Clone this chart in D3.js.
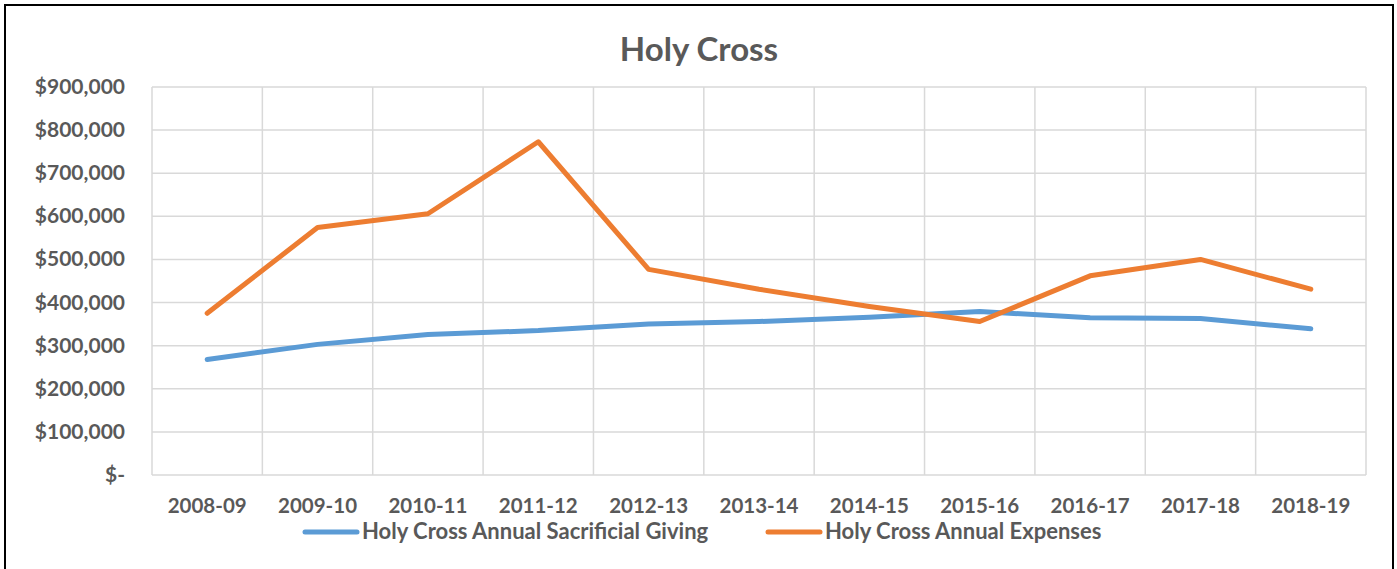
<!DOCTYPE html>
<html>
<head>
<meta charset="utf-8">
<script src="https://cdn.jsdelivr.net/npm/d3@7"></script>
<style>
  body { margin: 0; background: #fff; }
  text { font-family: Lato, "Open Sans", "Liberation Sans", sans-serif; font-weight: bold; fill: #595959; }
</style>
</head>
<body>
<div id="chart"></div>
<script>
// data
var years = ["2008-09", "2009-10", "2010-11", "2011-12", "2012-13", "2013-14",
             "2014-15", "2015-16", "2016-17", "2017-18", "2018-19"];
var giving = [268000, 303000, 326000, 335000, 350000, 356000, 366000, 379000, 365000, 363000, 339000];
var expenses = [375000, 574000, 606000, 773000, 477000, 431000, 391000, 356000, 462000, 500000, 431000];
var yTicks = [0, 100000, 200000, 300000, 400000, 500000, 600000, 700000, 800000, 900000];
var seriesNames = ["Holy Cross Annual Sacrificial Giving", "Holy Cross Annual Expenses"];
var colors = ["#5B9BD5", "#ED7D31"];

var width = 1397,
    height = 569

var svg = d3.select("#chart").append("svg")
    .attr("width", width)
    .attr("height", height)

// outer frame
svg.append("rect")
    .attr("x", 5).attr("y", 5)
    .attr("width", 1388).attr("height", 580)
    .attr("fill", "none")
    .attr("stroke", "#000")
    .attr("stroke-width", 2)

var plotLeft = 152, plotRight = 1366, plotTop = 87, plotBottom = 475

var x = d3.scaleBand().domain(years).range([plotLeft, plotRight])
var y = d3.scaleLinear().domain([0, 900000]).range([plotBottom, plotTop])

// horizontal gridlines
svg.append("g").selectAll("line")
    .data(yTicks).enter()
    .append("line")
    .attr("x1", plotLeft).attr("x2", plotRight)
    .attr("y1", function(d) { return y(d) }).attr("y2", function(d) { return y(d) })
    .attr("stroke", "#D9D9D9").attr("stroke-width", 1.5)

// vertical gridlines at category edges
var edges = years.map(function(d) { return x(d) }).concat([plotRight])
svg.append("g").selectAll("line")
    .data(edges).enter()
    .append("line")
    .attr("x1", function(d) { return d }).attr("x2", function(d) { return d })
    .attr("y1", plotTop).attr("y2", plotBottom)
    .attr("stroke", "#D9D9D9").attr("stroke-width", 1.5)

// y axis labels
var fmt = d3.format(",")
svg.append("g").selectAll("text")
    .data(yTicks).enter()
    .append("text")
    .attr("x", 125)
    .attr("y", function(d) { return y(d) + 7 })
    .attr("text-anchor", "end")
    .style("font-size", "21px")
    .text(function(d) { return d === 0 ? "$-" : "$" + fmt(d) })

// x axis labels
svg.append("g").selectAll("text")
    .data(years).enter()
    .append("text")
    .attr("x", function(d) { return x(d) + x.bandwidth() / 2 })
    .attr("y", 513)
    .attr("text-anchor", "middle")
    .style("font-size", "20.5px")
    .text(function(d) { return d })

// title
svg.append("text")
    .attr("x", 699).attr("y", 61)
    .attr("text-anchor", "middle")
    .style("font-size", "33px")
    .text("Holy Cross")

// lines
var line = d3.line()
    .x(function(d, i) { return x(years[i]) + x.bandwidth() / 2 })
    .y(function(d) { return y(d) })

;[giving, expenses].forEach(function(s, i) {
  svg.append("path")
    .attr("d", line(s))
    .attr("fill", "none")
    .attr("stroke", colors[i])
    .attr("stroke-width", 5)
    .attr("stroke-linecap", "round")
    .attr("stroke-linejoin", "round")
})

// legend
var legendX = [305, 768]
seriesNames.forEach(function(name, i) {
  var g = svg.append("g")
  g.append("line")
    .attr("x1", legendX[i]).attr("x2", legendX[i] + 52)
    .attr("y1", 532).attr("y2", 532)
    .attr("stroke", colors[i])
    .attr("stroke-width", 5)
    .attr("stroke-linecap", "round")
  g.append("text")
    .attr("x", legendX[i] + 57)
    .attr("y", 539)
    .style("font-size", "22px")
    .text(name)
})
</script>
</body>
</html>
